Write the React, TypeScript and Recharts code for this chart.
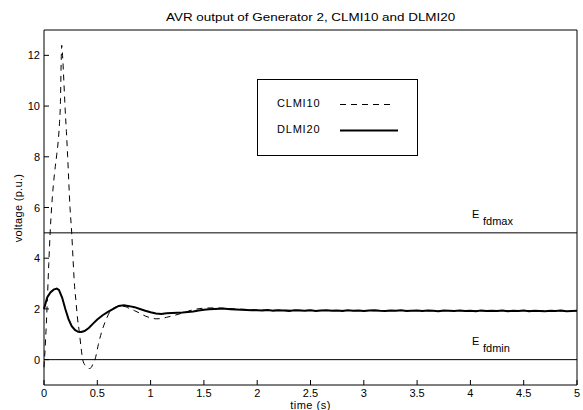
import React from 'react';
import {
  LineChart,
  Line,
  XAxis,
  YAxis,
  ReferenceLine,
  Legend
} from 'recharts';

// CLMI10 (dashed) — time (s) / voltage (p.u.)
const clmiTime = [
  0, 0.015, 0.03, 0.045, 0.06, 0.08, 0.1, 0.12, 0.135, 0.145, 0.155, 0.16, 0.166,
  0.174, 0.186, 0.197, 0.21, 0.222, 0.244, 0.26, 0.272, 0.285, 0.3, 0.315, 0.331, 0.347,
  0.363, 0.385, 0.405, 0.425, 0.445, 0.46, 0.478, 0.51, 0.541, 0.58, 0.62, 0.66, 0.7,
  0.75, 0.8, 0.85, 0.9, 0.95, 1.0, 1.05, 1.1, 1.15, 1.2, 1.3, 1.4, 1.5, 1.6, 1.7, 1.8,
  1.9, 2.0, 2.2, 2.4, 2.6, 2.8, 3.0, 3.2, 3.4, 3.6, 3.8, 4.0, 4.2, 4.4, 4.6, 4.8, 5.0
];
const clmiVolt = [
  -0.3, 0.8, 2.2, 3.8, 5.2, 6.5, 7.4, 8.1, 8.7, 9.3, 10.3, 11.5, 12.4,
  12.0, 11.0, 10.0, 9.0, 8.0, 6.0, 5.0, 4.0, 3.0, 2.3, 1.6, 1.1, 0.5,
  0.0, -0.22, -0.32, -0.35, -0.3, -0.15, 0.0, 0.6, 1.1, 1.55, 1.9, 2.05, 2.1,
  2.1, 2.02, 1.93, 1.83, 1.72, 1.65, 1.61, 1.62, 1.67, 1.72, 1.84, 1.97, 2.03, 2.04, 2.03, 2.0,
  1.98, 1.96, 1.95, 1.95, 1.94, 1.94, 1.93, 1.93, 1.94, 1.93, 1.93, 1.93, 1.92, 1.93, 1.93, 1.92, 1.93
];

// DLMI20 (solid)
const dlmiTime = [
  0, 0.03, 0.06, 0.09, 0.12, 0.14, 0.17, 0.2, 0.23, 0.26, 0.29, 0.32, 0.35, 0.38, 0.42,
  0.46, 0.5, 0.55, 0.6, 0.65, 0.7, 0.75, 0.8, 0.85, 0.9, 0.95, 1.0, 1.05, 1.1, 1.15, 1.2,
  1.25, 1.3, 1.35, 1.4, 1.45, 1.5, 1.55, 1.6, 1.65, 1.7, 1.75, 1.8, 1.85, 1.9, 1.95,
  2.0, 2.05, 2.1, 2.15, 2.2, 2.25, 2.3, 2.35, 2.4, 2.45, 2.5, 2.55, 2.6, 2.65, 2.7, 2.75,
  2.8, 2.85, 2.9, 2.95, 3.0, 3.05, 3.1, 3.15, 3.2, 3.25, 3.3, 3.35, 3.4, 3.45, 3.5, 3.55,
  3.6, 3.65, 3.7, 3.75, 3.8, 3.85, 3.9, 3.95, 4.0, 4.05, 4.1, 4.15, 4.2, 4.25, 4.3, 4.35,
  4.4, 4.45, 4.5, 4.55, 4.6, 4.65, 4.7, 4.75, 4.8, 4.85, 4.9, 4.95, 5.0
];
const dlmiVolt = [
  2.0, 2.45, 2.65, 2.76, 2.8, 2.75, 2.45, 2.0, 1.6, 1.32, 1.17, 1.1, 1.09, 1.13, 1.25,
  1.42, 1.58, 1.75, 1.88, 2.0, 2.12, 2.14, 2.11, 2.07, 2.0, 1.93, 1.87, 1.82, 1.8, 1.83, 1.84,
  1.85, 1.86, 1.88, 1.9, 1.94, 1.97, 1.99, 2.0, 2.01, 2.01, 1.99, 1.98, 1.97, 1.96, 1.95,
  1.95, 1.94, 1.96, 1.93, 1.95, 1.94, 1.92, 1.95, 1.94, 1.93, 1.95, 1.92, 1.94, 1.95, 1.93, 1.94,
  1.92, 1.95, 1.93, 1.94, 1.92, 1.94, 1.95, 1.93, 1.92, 1.94, 1.93, 1.95, 1.92, 1.93, 1.94, 1.92,
  1.94, 1.93, 1.91, 1.94, 1.93, 1.92, 1.94, 1.92, 1.93, 1.91, 1.94, 1.92, 1.93, 1.92, 1.94, 1.91,
  1.93, 1.92, 1.94, 1.91, 1.93, 1.92, 1.91, 1.93, 1.92, 1.94, 1.91, 1.92, 1.93
];

const xTicks = [0, 0.5, 1, 1.5, 2, 2.5, 3, 3.5, 4, 4.5, 5];
const yTicks = [0, 2, 4, 6, 8, 10, 12];
const efdMax = 5;
const efdMin = 0;

const clmiData = clmiTime.map((t, i) => ({ t, v: clmiVolt[i] }));
const dlmiData = dlmiTime.map((t, i) => ({ t, v: dlmiVolt[i] }));

const FONT = '"Liberation Sans", Arial, sans-serif';
const TICK_LEN = 5;
const X_MARGIN = 6;
const Y_MARGIN = 4;

// matlab style: ticks point into the plot box
const BottomTick = (props: any) => {
  const { x, y, payload } = props;
  const axisY = y - X_MARGIN;
  return (
    <g>
      <line x1={x} x2={x} y1={axisY} y2={axisY - TICK_LEN} stroke="#000" />
      <text x={x} y={y + 6} textAnchor="middle" fontSize={11} fontFamily={FONT} fill="#000">{payload.value}</text>
    </g>
  );
};
const TopTick = (props: any) => {
  const { x, y } = props;
  return <line x1={x} x2={x} y1={y} y2={y + TICK_LEN} stroke="#000" />;
};
const LeftTick = (props: any) => {
  const { x, y, payload } = props;
  const axisX = x + Y_MARGIN;
  return (
    <g>
      <line x1={axisX} x2={axisX + TICK_LEN} y1={y} y2={y} stroke="#000" />
      <text x={x} y={y + 4} textAnchor="end" fontSize={11} fontFamily={FONT} fill="#000">{payload.value}</text>
    </g>
  );
};
const RightTick = (props: any) => {
  const { x, y } = props;
  return <line x1={x} x2={x - TICK_LEN} y1={y} y2={y} stroke="#000" />;
};

const EfdLabel = (sub: string) => (props: any) => {
  const { viewBox } = props;
  const x = viewBox.x + 428;
  const y = viewBox.y;
  return (
    <text fontFamily={FONT} fontSize={11} fill="#000">
      <tspan x={x} y={y - 15}>E</tspan>
      <tspan x={x + 11} y={y - 8}>{sub}</tspan>
    </text>
  );
};

const LegendBox = () => (
  <div style={{ width: 161, height: 77, border: '1px solid #000', background: '#fff', boxSizing: 'border-box', position: 'relative', fontFamily: FONT, fontSize: 11, letterSpacing: 0.8 }}>
    <span style={{ position: 'absolute', left: 19, top: 17 }}>CLMI10</span>
    <span style={{ position: 'absolute', left: 19, top: 43 }}>DLMI20</span>
    <svg width={161} height={77} style={{ position: 'absolute', left: -1, top: -1 }}>
      <line x1={83} x2={137} y1={25.5} y2={25.5} stroke="#000" strokeDasharray="6 5" />
      <line x1={83} x2={141} y1={51.5} y2={51.5} stroke="#000" strokeWidth={2} />
    </svg>
  </div>
);

export default function App() {
  return (
    <div style={{ position: 'absolute', left: 0, top: 0, width: 583, height: 410, background: '#fff', fontFamily: FONT }}>
      <div style={{ position: 'absolute', left: 44, width: 533, top: 11, textAlign: 'center', fontSize: 11, transform: 'scaleX(1.22)', transformOrigin: '266px 0' }}>
        AVR output of Generator 2, CLMI10 and DLMI20
      </div>
      <div style={{ position: 'absolute', left: 44, width: 533, top: 399, lineHeight: '12px', textAlign: 'center', fontSize: 11, letterSpacing: 0.5 }}>
        time (s)
      </div>
      <div style={{ position: 'absolute', left: 18, top: 208, fontSize: 11, letterSpacing: 0.3, transform: 'translate(-50%, -50%) rotate(-90deg)', whiteSpace: 'nowrap' }}>
        voltage (p.u.)
      </div>
      <LineChart width={583} height={410} margin={{ top: 29, right: 5, left: 0, bottom: 0 }} style={{ position: 'absolute', left: 0, top: 0 }}>
        <XAxis
          dataKey="t"
          type="number"
          domain={[0, 5]}
          ticks={xTicks}
          allowDuplicatedCategory={false}
          height={25}
          tickSize={0}
          tickMargin={X_MARGIN}
          tickLine={false}
          stroke="#000"
          tick={<BottomTick />}
          interval={0}
        />
        <XAxis xAxisId="top" orientation="top" type="number" domain={[0, 5]} ticks={xTicks} height={1} tickSize={0} tickMargin={0} tickLine={false} stroke="#000" tick={<TopTick />} interval={0} />
        <YAxis
          type="number"
          domain={[-1, 13]}
          ticks={yTicks}
          width={44}
          tickSize={0}
          tickMargin={Y_MARGIN}
          tickLine={false}
          stroke="#000"
          tick={<LeftTick />}
          interval={0}
        />
        <YAxis yAxisId="right" orientation="right" type="number" domain={[-1, 13]} ticks={yTicks} width={1} tickSize={0} tickMargin={0} tickLine={false} stroke="#000" tick={<RightTick />} interval={0} />
        <ReferenceLine y={efdMax} stroke="#000" label={EfdLabel('fdmax')} />
        <ReferenceLine y={efdMin} stroke="#000" label={EfdLabel('fdmin')} />
        <Line data={clmiData} dataKey="v" type="monotone" stroke="#000" strokeWidth={1} strokeDasharray="6 5" dot={false} isAnimationActive={false} name="CLMI10" />
        <Line data={dlmiData} dataKey="v" type="linear" stroke="#000" strokeWidth={2} dot={false} isAnimationActive={false} name="DLMI20" />
        <Legend
          layout="horizontal"
          verticalAlign="middle"
          align="center"
          content={() => <LegendBox />}
          wrapperStyle={{ left: 257, top: 79, width: 161, height: 77 }}
        />
      </LineChart>
    </div>
  );
}
